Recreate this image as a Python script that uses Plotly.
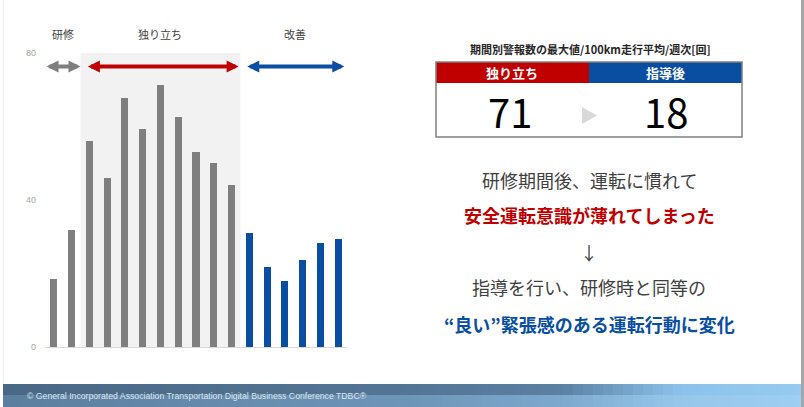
import plotly.graph_objects as go

# ---------------- data ----------------
weeks = list(range(17))
phase = ["研修"] * 2 + ["独り立ち"] * 9 + ["改善"] * 6
values = [18.4, 31.9, 56.0, 45.9, 67.7, 59.4, 71.4, 62.5, 53.0, 50.2, 44.1,
          30.9, 21.9, 17.9, 23.6, 28.2, 29.5]
phase_colors = {"研修": "#7f7f7f", "独り立ち": "#7f7f7f", "改善": "#0a4ea2"}
y_ticks = [0, 40, 80]

table_title = "期間別警報数の最大値/100km走行平均/週次[回]"
table_heads = ["独り立ち", "指導後"]
table_values = [71, 18]

msg_lines = ["研修期間後、運転に慣れて", "安全運転意識が薄れてしまった", "↓",
             "指導を行い、研修時と同等の", "“良い”緊張感のある運転行動に変化"]
footer_text = "© General Incorporated Association Transportation Digital Business Conference TDBC®"

W, H = 804, 407
def px(x):
    return x / W
def py(y):
    return 1 - y / H

FONT = "Noto Sans CJK JP"

fig = go.Figure()
fig.add_trace(go.Bar(
    x=weeks, y=values, width=0.4,
    marker=dict(color=[phase_colors[p] for p in phase], line=dict(width=0)),
    hoverinfo="skip", showlegend=False,
))

shapes = []
annotations = []

# shaded "独り立ち" area
shapes.append(dict(type="rect", xref="x", yref="y", x0=1.5, x1=10.5, y0=0, y1=80,
                   fillcolor="#f2f2f2", line=dict(width=0), layer="below"))

# phase arrows
arrow_y = 76.3
for (xa, xb, col) in [(-0.5, 1.5, "#7f7f7f"), (1.83, 10.4, "#c00000"), (10.8, 16.35, "#0a4ea2")]:
    annotations.append(dict(x=xb, y=arrow_y, ax=xa, ay=arrow_y, xref="x", yref="y",
                            axref="x", ayref="y", text="", showarrow=True,
                            arrowside="end+start", arrowhead=2, arrowsize=0.6,
                            arrowwidth=4, arrowcolor=col, standoff=0, startstandoff=0))

# phase labels
for (xc, t) in [(63, "研修"), (160, "独り立ち"), (295, "改善")]:
    annotations.append(dict(x=px(xc), y=py(34), xref="paper", yref="paper", text=t,
                            showarrow=False, font=dict(family=FONT, size=11, color="#404040"),
                            xanchor="center", yanchor="middle"))

# ---------------- right panel ----------------
annotations.append(dict(x=px(590), y=py(48.5), xref="paper", yref="paper",
                        text="<b>" + table_title + "</b>", showarrow=False,
                        font=dict(family=FONT, size=11, color="#262626"),
                        xanchor="center", yanchor="middle"))
# header cells
shapes.append(dict(type="rect", xref="paper", yref="paper", x0=px(436), x1=px(589),
                   y0=py(83), y1=py(62), fillcolor="#c00000", line=dict(width=0)))
shapes.append(dict(type="rect", xref="paper", yref="paper", x0=px(589), x1=px(742),
                   y0=py(83), y1=py(62), fillcolor="#0a4ea2", line=dict(width=0)))
shapes.append(dict(type="rect", xref="paper", yref="paper", x0=px(436), x1=px(742),
                   y0=py(137), y1=py(62), fillcolor="rgba(0,0,0,0)",
                   line=dict(color="#808080", width=1.5)))
for (xc, t) in zip([512, 665], table_heads):
    annotations.append(dict(x=px(xc), y=py(72), xref="paper", yref="paper",
                            text="<b>" + t + "</b>", showarrow=False,
                            font=dict(family=FONT, size=13, color="white"),
                            xanchor="center", yanchor="middle"))
for (xc, v) in zip([510, 666], table_values):
    annotations.append(dict(x=px(xc), y=py(111), xref="paper", yref="paper",
                            text=str(v), showarrow=False,
                            font=dict(family=FONT, size=40, color="#000000"),
                            xanchor="center", yanchor="middle"))
# triangle
shapes.append(dict(type="path", xref="paper", yref="paper",
                   path=f"M {px(582)},{py(107)} L {px(582)},{py(124)} L {px(597)},{py(115.5)} Z",
                   fillcolor="#d9d9d9", line=dict(width=0)))

# message lines
styles = [("#404040", False), ("#c00000", True), ("#404040", False),
          ("#404040", False), ("#0a4ea2", True)]
ys = [180, 215, 252, 287, 324]
for t, (col, bold), yy in zip(msg_lines, styles, ys):
    annotations.append(dict(x=px(589), y=py(yy), xref="paper", yref="paper",
                            text=("<b>" + t + "</b>") if bold else t, showarrow=False,
                            font=dict(family=FONT, size=18, color=col),
                            xanchor="center", yanchor="middle"))

# ---------------- frame & footer ----------------
shapes.append(dict(type="line", xref="paper", yref="paper", x0=px(3.5), x1=px(3.5),
                   y0=py(384), y1=1, line=dict(color="#eeeeee", width=1)))
shapes.append(dict(type="rect", xref="paper", yref="paper", x0=px(801), x1=1,
                   y0=0, y1=1, fillcolor="#a6a6a6", line=dict(width=0)))

def lerp(c1, c2, t):
    return "#" + "".join(f"{int(round(a + (b - a) * t)):02x}" for a, b in zip(c1, c2))

stops_top = [(0, (74, 104, 134)), (420, (84, 118, 150)), (560, (90, 128, 162)), (680, (140, 194, 234)), (801, (150, 202, 240))]
stops_bot = [(0, (92, 126, 158)), (420, (110, 150, 185)), (560, (125, 168, 205)), (680, (150, 200, 236)), (801, (158, 206, 242))]
def color_at(stops, x):
    for (x0, c0), (x1, c1) in zip(stops[:-1], stops[1:]):
        if x0 <= x <= x1:
            return lerp(c0, c1, (x - x0) / (x1 - x0))
    return lerp(stops[-1][1], stops[-1][1], 0)

step = 10
for xs in range(3, 801, step):
    xe = min(xs + step, 801)
    xm = (xs + xe) / 2
    shapes.append(dict(type="rect", xref="paper", yref="paper", x0=px(xs), x1=px(xe),
                       y0=py(395), y1=py(384), fillcolor=color_at(stops_top, xm),
                       line=dict(width=0)))
    shapes.append(dict(type="rect", xref="paper", yref="paper", x0=px(xs), x1=px(xe),
                       y0=0, y1=py(395), fillcolor=color_at(stops_bot, xm),
                       line=dict(width=0)))
annotations.append(dict(x=px(25), y=py(395.5), xref="paper", yref="paper", text=footer_text,
                        showarrow=False, font=dict(family="Liberation Sans", size=8.7, color="#dde6ef"),
                        xanchor="left", yanchor="middle"))

fig.update_layout(
    width=W, height=H, margin=dict(l=0, r=0, t=0, b=0, autoexpand=False),
    paper_bgcolor="white", plot_bgcolor="rgba(0,0,0,0)",
    shapes=shapes, annotations=annotations, bargap=0,
    xaxis=dict(domain=[px(45), px(347)], range=[-0.5, 16.5], showticklabels=False,
               showgrid=False, zeroline=False, showline=True, linecolor="#d9d9d9",
               linewidth=1, ticks="", automargin=False),
    yaxis=dict(domain=[py(347), py(53)], range=[0, 80], tickvals=y_ticks,
               showgrid=False, zeroline=False, showline=False, ticks="",
               tickfont=dict(family="Liberation Sans", size=9, color="#a6a6a6"),
               ticklabelstandoff=8, automargin=False),
)

fig.write_html("out.html")
